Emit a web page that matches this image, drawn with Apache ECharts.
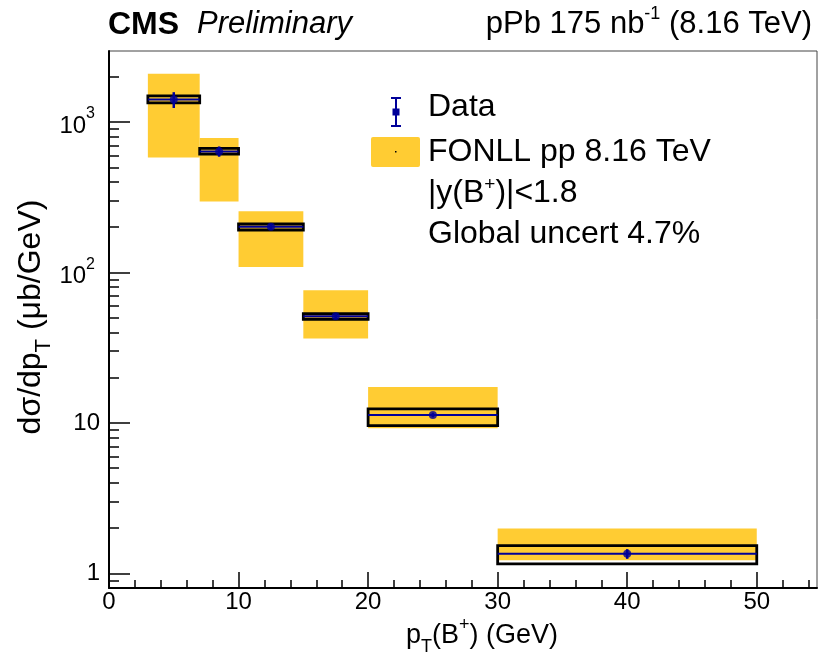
<!DOCTYPE html>
<html>
<head>
<meta charset="utf-8">
<script src="https://cdn.jsdelivr.net/npm/echarts@6/dist/echarts.min.js"></script>
<style>
html,body{margin:0;padding:0;background:#fff;}
#c{width:831px;height:662px;}
</style>
</head>
<body>
<div id="c"></div>
<script>
// ---- data ----
const binLow    = [3, 7, 10, 15, 20, 30];
const binHigh   = [7, 10, 15, 20, 30, 50];
const dataVal   = [1409, 638, 201, 51.2, 11.3, 1.35];
const statErr   = [170, 50, 8, 2, 0.4, 0.1];
const systLow   = [1341, 612, 191.6, 48.9, 9.6, 1.156];
const systHigh  = [1493, 668, 210, 53.3, 12.4, 1.528];
const fonllLow  = [580, 296, 108.8, 36.4, 9.22, 1.224];
const fonllHigh = [2097, 783, 255, 76.2, 17.35, 1.988];

const xMajorTicks = [0, 10, 20, 30, 40, 50];
const xMinorTicks = [2, 4, 6, 8, 12, 14, 16, 18, 22, 24, 26, 28, 32, 34, 36, 38, 42, 44, 46, 48, 52, 54];
const yMajorTicks = [1, 10, 100, 1000];
const yMinorTicks = [0.9, 2, 3, 4, 5, 6, 7, 8, 9, 20, 30, 40, 50, 60, 70, 80, 90,
                     200, 300, 400, 500, 600, 700, 800, 900, 2000];

const FONT = 'Liberation Sans, Arial, Helvetica, sans-serif';
const YEL = '#FFCC33';
const BLUE = '#000099';

const fonllData = binLow.map((lo, i) => [lo, binHigh[i], fonllLow[i], fonllHigh[i]]);
const systData  = binLow.map((lo, i) => [lo, binHigh[i], systLow[i], systHigh[i]]);
const xerrData  = binLow.map((lo, i) => [lo, binHigh[i], dataVal[i]]);
const statData  = binLow.map((lo, i) => [(lo + binHigh[i]) / 2, dataVal[i] - statErr[i], dataVal[i] + statErr[i]]);
const pointData = binLow.map((lo, i) => [(lo + binHigh[i]) / 2, dataVal[i]]);

const chart = echarts.init(document.getElementById('c'), null, {renderer: 'canvas'});

function rectItem(fillStyle) {
  return function (params, api) {
    const p1 = api.coord([api.value(0), api.value(3)]);
    const p2 = api.coord([api.value(1), api.value(2)]);
    return {type: 'rect', shape: {x: p1[0], y: p1[1], width: p2[0] - p1[0], height: p2[1] - p1[1]}, style: fillStyle};
  };
}

const yAxisCommon = {type: 'log', logBase: 10, min: 0.8, max: 2965, splitLine: {show: false}};
const LEG = '32px ' + FONT;

const option = {
  animation: false,
  backgroundColor: '#fff',
  grid: {left: 109, top: 51, width: 708, height: 537, show: true, borderColor: '#444', borderWidth: 1, backgroundColor: 'transparent'},
  xAxis: [{
    type: 'value', min: 0, max: 54.65,
    axisLine: {show: true, onZero: false, lineStyle: {color: '#000', width: 2}},
    axisTick: {show: true, inside: true, length: 16, lineStyle: {color: '#000', width: 1.5}, customValues: xMajorTicks},
    axisLabel: {show: true, customValues: xMajorTicks, color: '#000', fontSize: 24, fontFamily: FONT, margin: 2},
    splitLine: {show: false}
  }, {
    type: 'value', min: 0, max: 54.65, position: 'bottom',
    axisLine: {show: false},
    axisTick: {show: true, inside: true, length: 8, lineStyle: {color: '#000', width: 1.5}, customValues: xMinorTicks},
    axisLabel: {show: false},
    splitLine: {show: false}
  }],
  yAxis: [Object.assign({}, yAxisCommon, {
    axisLine: {show: true, onZero: false, lineStyle: {color: '#000', width: 2}},
    axisTick: {show: true, inside: true, length: 21, lineStyle: {color: '#000', width: 1.5}, customValues: yMajorTicks},
    axisLabel: {
      show: true, customValues: yMajorTicks, color: '#000', fontSize: 24, fontFamily: FONT, margin: 9,
      formatter: function (v) {
        const e = Math.round(Math.log10(v));
        if (e <= 1) return String(Math.round(v));
        return '{b|10}{s|' + e + '}{p|}';
      },
      rich: {
        b: {fontSize: 24, fontFamily: FONT, color: '#000', lineHeight: 32, verticalAlign: 'bottom'},
        s: {fontSize: 16, fontFamily: FONT, color: '#000', lineHeight: 32, verticalAlign: 'top'},
        p: {width: 5, lineHeight: 32}
      }
    }
  }), Object.assign({}, yAxisCommon, {
    position: 'left',
    axisLine: {show: false},
    axisTick: {show: true, inside: true, length: 10, lineStyle: {color: '#000', width: 1.5}, customValues: yMinorTicks},
    axisLabel: {show: false}
  })],
  series: [{
    type: 'custom', name: 'FONLL', data: fonllData, clip: true,
    encode: {x: [0, 1], y: [2, 3]},
    renderItem: rectItem({fill: YEL})
  }, {
    type: 'custom', name: 'syst', data: systData, clip: true,
    encode: {x: [0, 1], y: [2, 3]},
    renderItem: rectItem({fill: 'none', stroke: '#000', lineWidth: 2.8})
  }, {
    type: 'custom', name: 'xerr', data: xerrData, clip: true,
    encode: {x: [0, 1], y: 2},
    renderItem: function (params, api) {
      const p1 = api.coord([api.value(0), api.value(2)]);
      const p2 = api.coord([api.value(1), api.value(2)]);
      return {type: 'line', shape: {x1: p1[0], y1: p1[1], x2: p2[0], y2: p2[1]}, style: {stroke: BLUE, lineWidth: 2}};
    }
  }, {
    type: 'custom', name: 'stat', data: statData, clip: true,
    encode: {x: 0, y: [1, 2]},
    renderItem: function (params, api) {
      const p1 = api.coord([api.value(0), api.value(1)]);
      const p2 = api.coord([api.value(0), api.value(2)]);
      return {type: 'line', shape: {x1: p1[0], y1: p1[1], x2: p2[0], y2: p2[1]}, style: {stroke: BLUE, lineWidth: 2.5}};
    }
  }, {
    type: 'scatter', name: 'Data', data: pointData, symbol: 'circle', symbolSize: 8,
    itemStyle: {color: BLUE}
  }],
  graphic: [
    // header
    {type: 'text', left: 108, top: 9, style: {text: 'CMS', font: 'bold 32px ' + FONT, fill: '#000'}},
    {type: 'text', left: 197, top: 9, style: {text: 'Preliminary', font: 'italic 31px ' + FONT, fill: '#000'}},
    {type: 'text', right: 19, top: 5, style: {
      text: 'pPb 175 nb{s|-1} (8.16 TeV)', font: '31px ' + FONT, fill: '#000',
      rich: {s: {fontSize: 18, fontFamily: FONT, verticalAlign: 'top', lineHeight: 38}},
      lineHeight: 38
    }},
    // axis titles
    {type: 'text', x: 482, y: 636, style: {
      text: 'p{sub|T}(B{sup|+}) (GeV)', font: '27px ' + FONT, fill: '#000', align: 'center', verticalAlign: 'middle',
      rich: {
        sub: {fontSize: 18, fontFamily: FONT, verticalAlign: 'bottom', lineHeight: 40},
        sup: {fontSize: 18, fontFamily: FONT, verticalAlign: 'top', lineHeight: 40}
      }, lineHeight: 40
    }},
    {type: 'text', x: 31, y: 317, rotation: Math.PI / 2, style: {
      text: 'dσ/dp{sub|T} (μb/GeV)', font: '32px ' + FONT, fill: '#000', align: 'center', verticalAlign: 'middle',
      rich: {sub: {fontSize: 22, fontFamily: FONT, verticalAlign: 'bottom', lineHeight: 48}},
      lineHeight: 48
    }},
    // legend: Data
    {type: 'line', shape: {x1: 396, y1: 98, x2: 396, y2: 126}, style: {stroke: BLUE, lineWidth: 2}},
    {type: 'line', shape: {x1: 391, y1: 98, x2: 401, y2: 98}, style: {stroke: BLUE, lineWidth: 2}},
    {type: 'line', shape: {x1: 391, y1: 126, x2: 401, y2: 126}, style: {stroke: BLUE, lineWidth: 2}},
    {type: 'rect', shape: {x: 392.5, y: 108.5, width: 7, height: 7}, style: {fill: BLUE}},
    {type: 'text', x: 428, y: 107, style: {text: 'Data', font: LEG, fill: '#000', verticalAlign: 'middle'}},
    // legend: FONLL
    {type: 'rect', shape: {x: 371, y: 137, width: 49, height: 30, r: 2}, style: {fill: YEL}},
    {type: 'rect', shape: {x: 395, y: 151, width: 1.5, height: 1.5}, style: {fill: '#000'}},
    {type: 'text', x: 428, y: 152, style: {text: 'FONLL pp 8.16 TeV', font: LEG, fill: '#000', verticalAlign: 'middle'}},
    {type: 'text', x: 428, y: 193, style: {
      text: '|y(B{s|+})|<1.8', font: LEG, fill: '#000', verticalAlign: 'middle',
      rich: {s: {fontSize: 19, fontFamily: FONT, verticalAlign: 'top', lineHeight: 36}}, lineHeight: 36
    }},
    {type: 'text', x: 428, y: 234, style: {text: 'Global uncert 4.7%', font: LEG, fill: '#000', verticalAlign: 'middle'}}
  ]
};
chart.setOption(option);
</script>
</body>
</html>
